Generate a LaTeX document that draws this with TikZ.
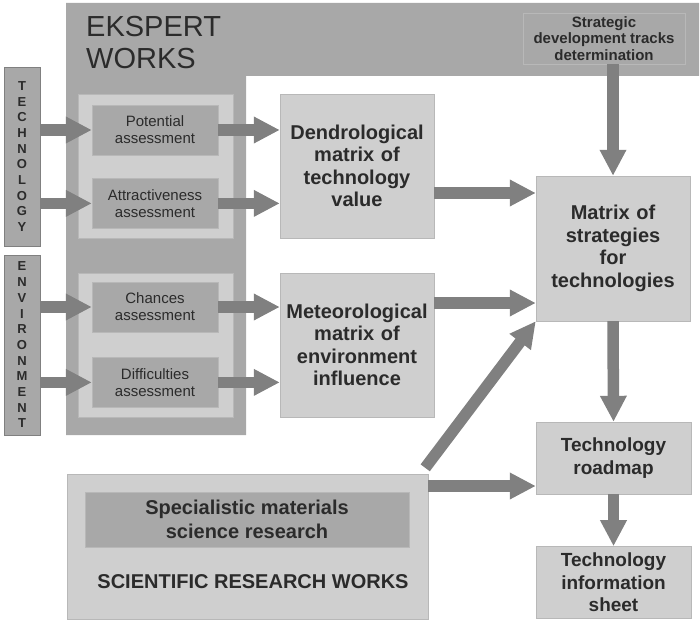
\documentclass[tikz,border=0pt]{standalone}
\usepackage{fontspec}
\setmainfont{Liberation Sans}
\usetikzlibrary{arrows.meta,positioning}
\definecolor{darkfill}{HTML}{A8A8A8}
\definecolor{lightfill}{HTML}{CFCFCF}
\definecolor{arrowgray}{HTML}{808080}
\definecolor{textgray}{HTML}{2B2B2B}
\definecolor{edgegray}{HTML}{B8B8B8}

\begin{document}
\begin{tikzpicture}[
  x=1pt, y=-1pt,
  every node/.style={text=textgray},
  sidebar/.style={rectangle, draw=gray, fill=darkfill, minimum width=36pt, inner sep=0pt,
                  align=center, font=\fontsize{13}{15.7}\selectfont\bfseries},
  panel/.style={rectangle, draw=edgegray, fill=lightfill, minimum width=155pt, minimum height=144pt},
  assess/.style={rectangle, draw=edgegray, fill=darkfill, minimum width=126pt, minimum height=50pt,
                 align=center, inner sep=2pt, font=\fontsize{15}{17}\selectfont},
  mbox/.style={rectangle, draw=edgegray, fill=lightfill, minimum width=154pt, minimum height=144pt,
               text width=150pt, align=center, inner sep=2pt, font=\fontsize{20}{22.5}\selectfont\bfseries},
  outbox/.style={mbox, minimum width=155pt, text width=151pt, minimum height=72pt, font=\fontsize{19}{22.5}\selectfont\bfseries},
  arr/.style={draw=arrowgray, line width=11.5pt, -{Triangle[length=26pt,width=25pt]}}
]
\useasboundingbox (0,0) rectangle (700,620);

\fill[darkfill] (66,3) -- (699,3) -- (699,76) -- (246,76) -- (246,435) -- (66,435) -- cycle;
\node[anchor=north west, inner sep=0pt, align=left, font=\fontsize{29}{32}\selectfont] (ekstitle) at (86,16) {EKSPERT\\WORKS};

\node[sidebar, minimum height=179pt] (techbar) at (22,156.5) {T\\E\\C\\H\\N\\O\\L\\O\\G\\Y};
\node[sidebar, minimum height=180pt] (envbar) at (22,345) {E\\N\\V\\I\\R\\O\\N\\M\\E\\N\\T};

\node[panel] (techpanel) at (155.5,166) {};
\node[assess] (potential) at (155,130) {Potential\\assessment};
\node[assess, below=23pt of potential] (attract) {Attractiveness\\assessment};
\node[panel] (envpanel) at (155.5,345) {};
\node[assess] (chances) at (155,307) {Chances\\assessment};
\node[assess, below=25pt of chances] (difficult) {Difficulties\\assessment};

\node[mbox] (dendro) at (357,166) {Dendrological\\matrix of\\technology\\value};
\node[mbox] (meteo) at (357,345) {Meteorological\\matrix of\\environment\\influence};

\node[rectangle, draw=edgegray, fill=darkfill, minimum width=162pt, minimum height=51pt, align=center,
      inner sep=2pt, font=\fontsize{15}{16.7}\selectfont\bfseries] (strategic) at (604,38.5)
      {Strategic\\development tracks\\determination};
\node[mbox, minimum height=145pt] (strat) at (613,248.5) {Matrix of\\strategies\\for\\technologies};
\node[outbox] (roadmap) at (613.5,458) {Technology\\roadmap};
\node[outbox, below=52pt of roadmap] (sheet) {Technology\\information\\sheet};

\node[rectangle, draw=edgegray, fill=lightfill, minimum width=361pt, minimum height=145pt] (science) at (247.5,546.5) {};
\node[rectangle, draw=edgegray, fill=darkfill, minimum width=324pt, minimum height=55pt, align=center,
      font=\fontsize{20}{24}\selectfont\bfseries] (special) at (247,519.5) {Specialistic materials\\science research};
\node[font=\fontsize{20}{24}\selectfont\bfseries] (scititle) at (253,582) {SCIENTIFIC RESEARCH WORKS};

\draw[arr] (techbar.east |- potential) -- (potential.west);
\draw[arr] (techbar.east |- attract) -- (attract.west);
\draw[arr] (envbar.east |- chances) -- (chances.west);
\draw[arr] (envbar.east |- difficult) -- (difficult.west);
\draw[arr] (potential.east) -- (potential.east -| dendro.west);
\draw[arr] (attract.east) -- (attract.east -| dendro.west);
\draw[arr] (chances.east) -- (chances.east -| meteo.west);
\draw[arr] (difficult.east) -- (difficult.east -| meteo.west);
\draw[arr] ([yshift=-27pt]dendro.east) -- ([yshift=-27pt]dendro.east -| strat.west);
\draw[arr] ([yshift=42pt]meteo.east) -- ([yshift=42pt]meteo.east -| strat.west);
\draw[arr] (strat.north |- strategic.south) -- (strat.north);
\draw[arr] (strat.south) -- (roadmap.north);
\draw[arr] (roadmap.south) -- (sheet.north);
\draw[arr] ([yshift=-28pt]roadmap.west -| science.east) -- ([yshift=-28pt]roadmap.west);
\draw[arr] ([shift={(-3pt,6pt)}]science.north east) -- (strat.south west);

\end{tikzpicture}
\end{document}
